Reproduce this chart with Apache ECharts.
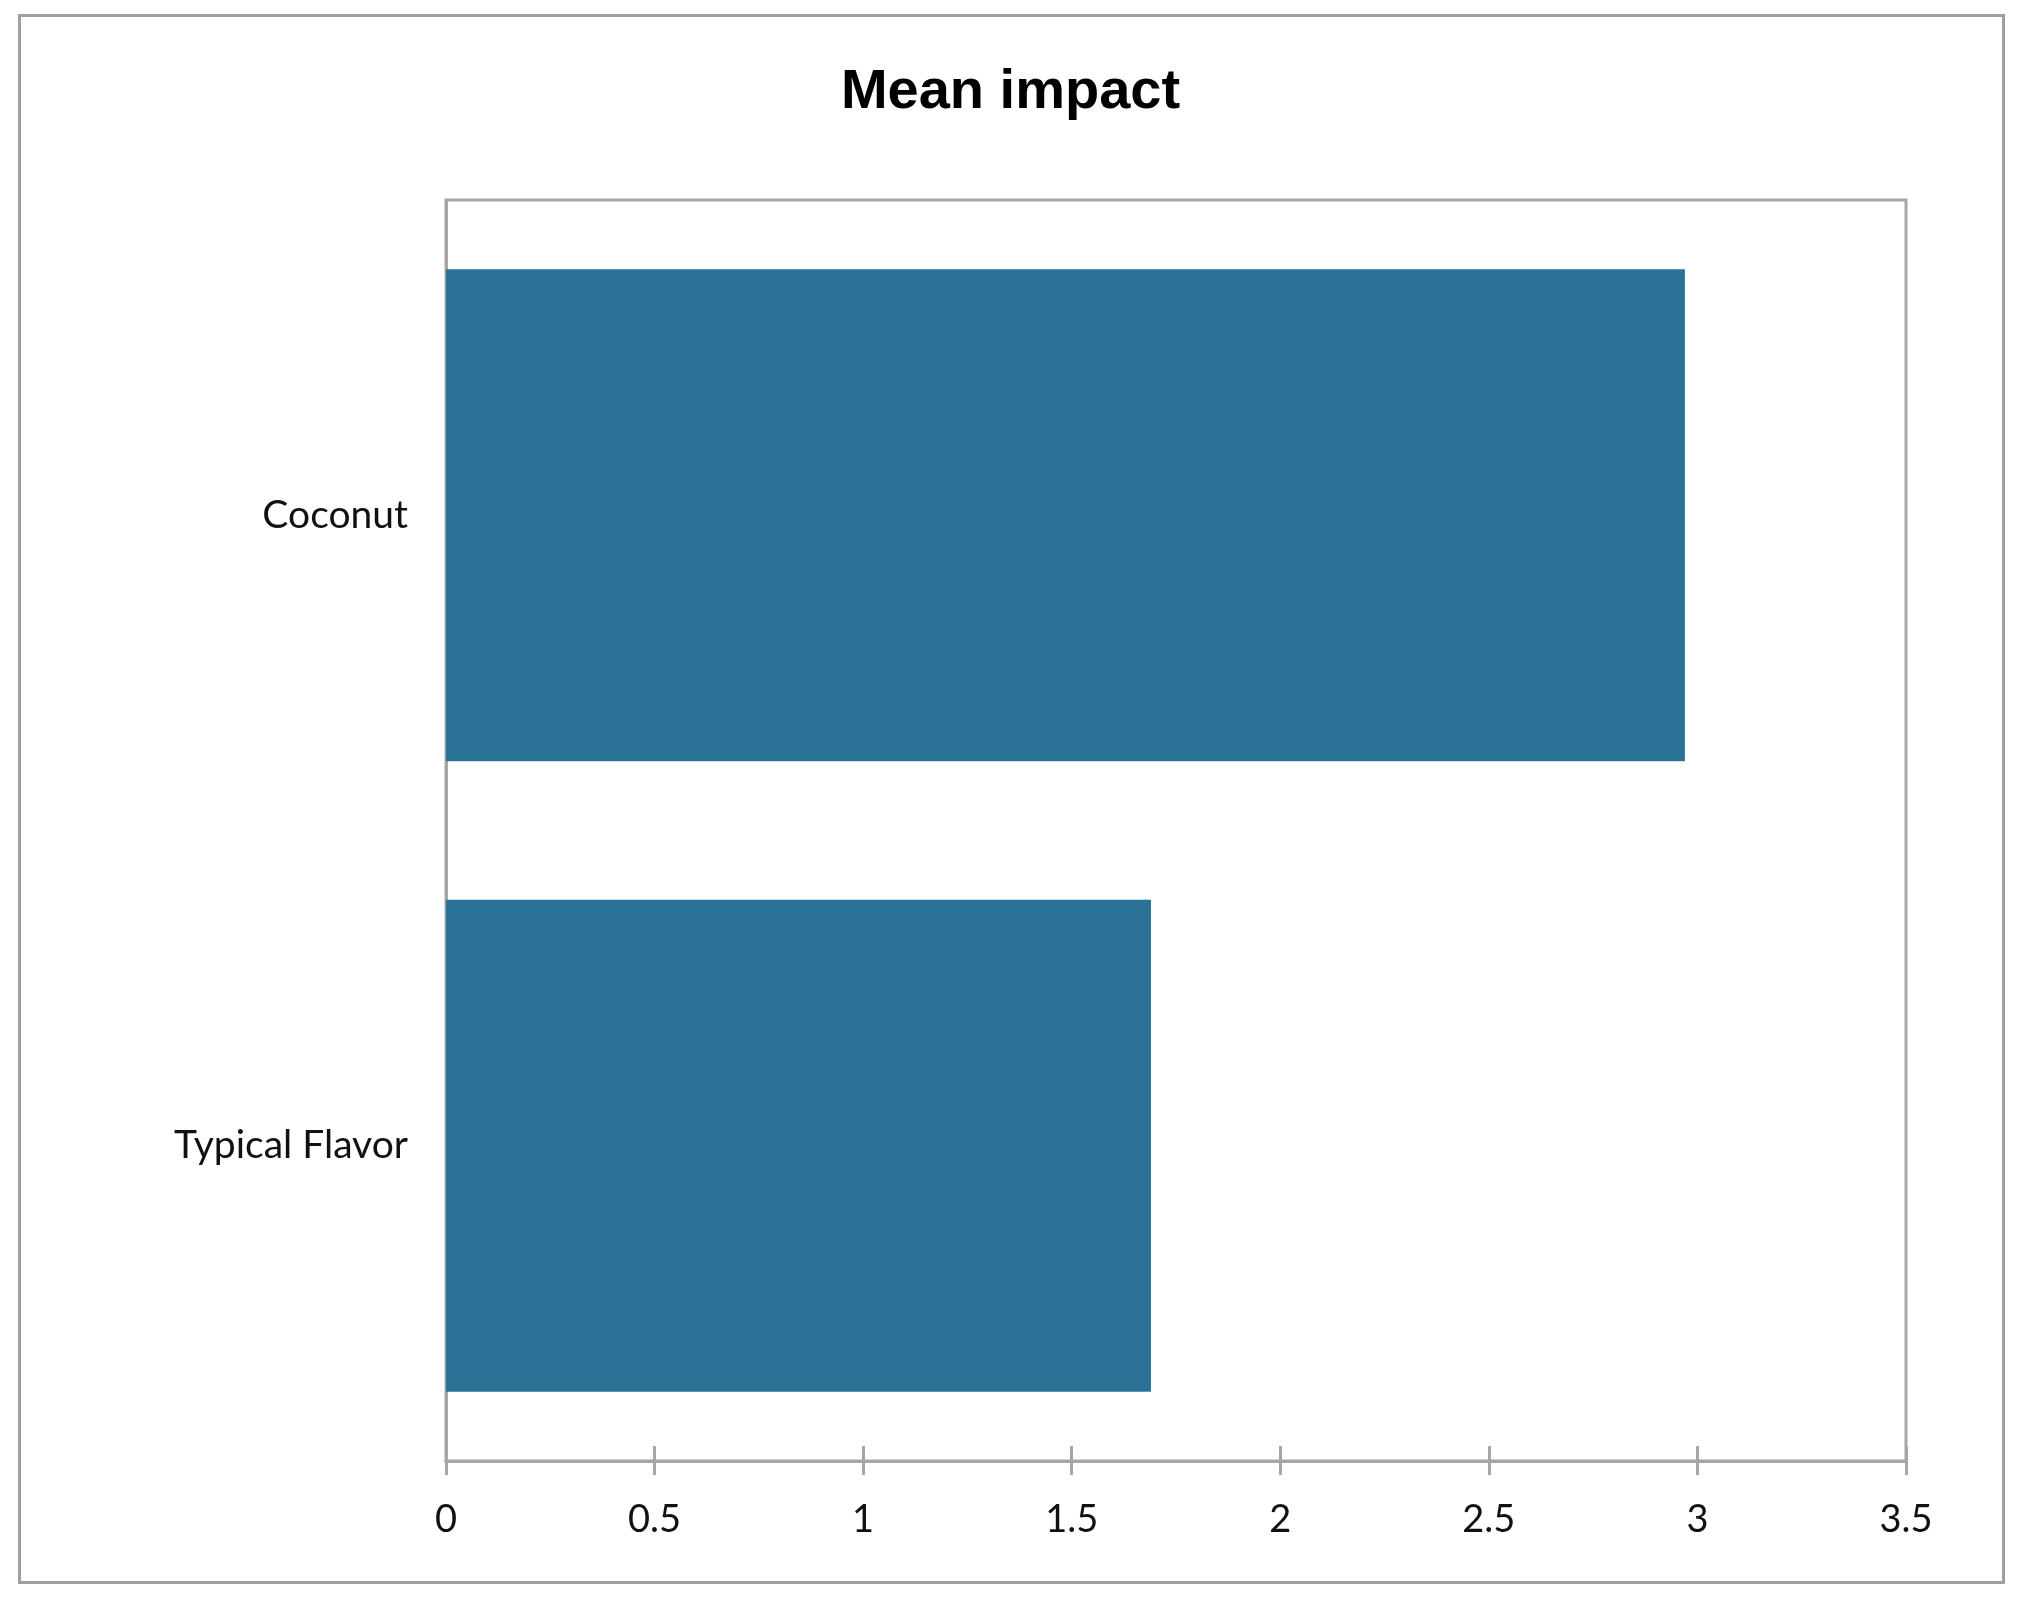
<!DOCTYPE html>
<html>
<head>
<meta charset="utf-8">
<script src="https://cdn.jsdelivr.net/npm/echarts@6/dist/echarts.min.js"></script>
<style>
html,body{margin:0;padding:0;background:#fff;}
#frame{position:absolute;left:18px;top:14px;width:1987px;height:1570px;border:3px solid #a0a0a0;box-sizing:border-box;}
#chart{position:absolute;left:0;top:0;width:2021px;height:1599px;}
</style>
</head>
<body>
<div id="frame"></div>
<div id="chart"></div>
<script>
const titleText = 'Mean impact';
const categories = ['Typical Flavor', 'Coconut'];
const meanImpact = [1.69, 2.97];
const xMin = 0, xMax = 3.5, xInterval = 0.5;

const chart = echarts.init(document.getElementById('chart'), null, {renderer: 'canvas'});
const grey = '#a6a6a6';
chart.setOption({
  animation: false,
  backgroundColor: 'transparent',
  title: {
    text: titleText,
    left: 'center',
    top: 60,
    textStyle: {fontFamily: 'Liberation Sans', fontWeight: 'bold', fontSize: 56, color: '#000'}
  },
  grid: {left: 446, right: 115, top: 200, bottom: 138, show: true, borderColor: grey, borderWidth: 3, backgroundColor: '#fff'},
  xAxis: [{
    type: 'value', min: xMin, max: xMax, interval: xInterval,
    axisLine: {show: true, lineStyle: {color: grey, width: 3}},
    axisTick: {show: true, length: 14, lineStyle: {color: grey, width: 3}},
    splitLine: {show: false},
    axisLabel: {margin: 40, fontFamily: 'Lato', fontSize: 38, color: '#111'}
  }, {
    type: 'value', min: xMin, max: xMax, interval: xInterval, position: 'bottom',
    axisLine: {show: false},
    axisTick: {show: true, inside: true, length: 15, lineStyle: {color: grey, width: 3}},
    splitLine: {show: false},
    axisLabel: {show: false}
  }],
  yAxis: {
    type: 'category', data: categories,
    axisLine: {show: true, lineStyle: {color: grey, width: 3}},
    axisTick: {show: false},
    axisLabel: {margin: 38, fontFamily: 'Lato', fontSize: 39, color: '#111'}
  },
  series: [{
    type: 'bar', data: meanImpact, xAxisIndex: 0,
    barCategoryGap: '22%',
    itemStyle: {color: '#2b7396'}
  }]
});
</script>
</body>
</html>
